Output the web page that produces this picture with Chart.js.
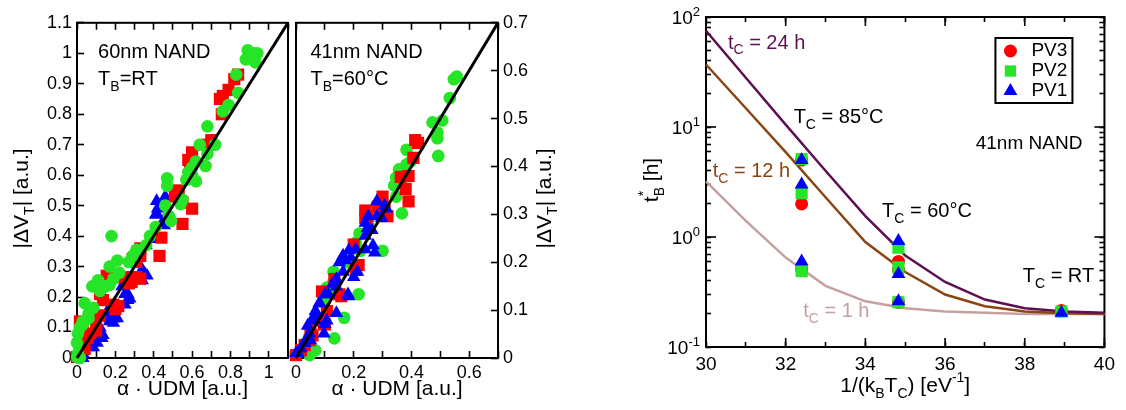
<!DOCTYPE html>
<html lang="en">
<head>
<meta charset="UTF-8">
<title>|ΔVT| vs α·UDM and t*B vs 1/(kB TC)</title>
<style>
  body { margin: 0; background: #fff; }
  #figure { position: relative; width: 1126px; height: 410px; }
  #figure canvas { position: absolute; top: 0; }
</style>
</head>
<body>
<div id="figure">
  <canvas id="nand60" width="300" height="410" style="left:0"></canvas>
  <canvas id="nand41" width="300" height="410" style="left:280px"></canvas>
  <canvas id="bake" width="506" height="410" style="left:620px"></canvas>
</div>

<script src="https://cdn.jsdelivr.net/npm/chart.js"></script>
<script>
// ---------- 60nm NAND, T_B = RT ----------
const udmTicks60 = [0, 0.1, 0.2, 0.3, 0.4, 0.5, 0.6, 0.7, 0.8, 0.9, 1, 1.1];
const udmLabels60 = ['0', '', '0.2', '', '0.4', '', '0.6', '', '0.8', '', '1', ''];
const dvtTicks60 = [0, 0.1, 0.2, 0.3, 0.4, 0.5, 0.6, 0.7, 0.8, 0.9, 1, 1.1];
const dvtLabels60 = ['0', '0.1', '0.2', '0.3', '0.4', '0.5', '0.6', '0.7', '0.8', '0.9', '1', '1.1'];
const refLine60 = [[0, 0], [1.1, 1.1]];

// green circles
const pv2Nand60 = [
  [0.89, 1.01], [0.92, 1.0], [0.94, 1.0], [0.93, 0.97], [0.88, 0.98], [0.83, 0.93],
  [0.84, 0.87], [0.79, 0.83], [0.76, 0.81], [0.68, 0.76], [0.64, 0.70], [0.72, 0.70],
  [0.68, 0.67], [0.67, 0.63], [0.62, 0.645], [0.60, 0.625], [0.58, 0.61], [0.60, 0.60],
  [0.57, 0.585], [0.62, 0.58], [0.47, 0.59], [0.47, 0.565], [0.55, 0.52], [0.54, 0.505],
  [0.46, 0.50], [0.48, 0.465], [0.49, 0.45], [0.41, 0.43], [0.38, 0.40], [0.36, 0.37],
  [0.18, 0.40], [0.31, 0.355], [0.29, 0.335], [0.27, 0.315], [0.21, 0.32], [0.22, 0.28],
  [0.19, 0.26], [0.17, 0.24], [0.08, 0.235], [0.15, 0.235], [0.12, 0.22], [0.11, 0.255],
  [0.17, 0.30], [0.04, 0.18], [0.085, 0.165], [0.06, 0.145], [0.06, 0.13], [0.03, 0.12],
  [0.03, 0.11], [0.015, 0.10], [0.005, 0.08], [0.0, 0.05], [0.005, 0.015], [0.015, 0.0],
  [0.0, 0.003]
];
// red squares
const pv3Nand60 = [
  [0.84, 0.93], [0.82, 0.915], [0.79, 0.88], [0.745, 0.85], [0.76, 0.86], [0.755, 0.80],
  [0.70, 0.715], [0.68, 0.70], [0.60, 0.675], [0.58, 0.65], [0.59, 0.62], [0.60, 0.49],
  [0.55, 0.44], [0.53, 0.55], [0.51, 0.53], [0.52, 0.545], [0.55, 0.51], [0.44, 0.395],
  [0.43, 0.335], [0.33, 0.335], [0.31, 0.315], [0.33, 0.36], [0.29, 0.325], [0.29, 0.265],
  [0.33, 0.26], [0.31, 0.265], [0.155, 0.27], [0.24, 0.265], [0.27, 0.245], [0.285, 0.25],
  [0.19, 0.175], [0.215, 0.17], [0.2, 0.16], [0.12, 0.21], [0.135, 0.19], [0.12, 0.14],
  [0.10, 0.115], [0.10, 0.09], [0.015, 0.12], [0.03, 0.11], [0.07, 0.08], [0.057, 0.065],
  [0.015, 0.048], [0.04, 0.03], [0.015, 0.025], [0.0, 0.003]
];
// blue triangles
const pv1Nand60 = [
  [0.415, 0.515], [0.43, 0.50], [0.415, 0.475], [0.46, 0.53], [0.42, 0.49], [0.41, 0.47],
  [0.45, 0.45], [0.455, 0.435], [0.36, 0.37], [0.41, 0.39], [0.34, 0.29], [0.355, 0.275],
  [0.33, 0.28], [0.365, 0.27], [0.34, 0.255], [0.235, 0.235], [0.25, 0.21], [0.265, 0.19],
  [0.265, 0.21], [0.275, 0.195], [0.25, 0.175], [0.155, 0.15], [0.19, 0.13], [0.17, 0.12],
  [0.21, 0.13], [0.19, 0.115], [0.17, 0.13], [0.12, 0.10], [0.105, 0.08], [0.085, 0.065],
  [0.135, 0.075], [0.13, 0.065], [0.105, 0.05], [0.085, 0.035], [0.06, 0.035], [0.03, 0.015],
  [0.03, 0.0], [0.025, 0.003], [0.005, 0.015]
];

// ---------- 41nm NAND, T_B = 60 °C ----------
const udmTicks41 = [0, 0.1, 0.2, 0.3, 0.4, 0.5, 0.6, 0.7];
const udmLabels41 = ['0', '', '0.2', '', '0.4', '', '0.6', ''];
const dvtTicks41 = [0, 0.1, 0.2, 0.3, 0.4, 0.5, 0.6, 0.7];
const dvtLabels41 = ['0', '0.1', '0.2', '0.3', '0.4', '0.5', '0.6', '0.7'];
const refLine41 = [[0, 0], [0.7, 0.7]];

const pv2Nand41 = [
  [0.557, 0.588], [0.547, 0.582], [0.533, 0.543], [0.473, 0.492], [0.507, 0.496],
  [0.49, 0.471], [0.49, 0.459], [0.493, 0.422], [0.383, 0.435], [0.397, 0.41],
  [0.383, 0.404], [0.357, 0.394], [0.347, 0.377], [0.357, 0.373], [0.34, 0.36],
  [0.347, 0.337], [0.367, 0.302], [0.28, 0.316], [0.297, 0.296], [0.30, 0.224],
  [0.207, 0.241], [0.223, 0.224], [0.13, 0.18], [0.13, 0.159], [0.217, 0.133],
  [0.167, 0.084], [0.133, 0.041], [0.107, 0.147], [0.113, 0.139], [0.067, 0.016],
  [0.047, 0.006], [0.25, 0.28], [0.22, 0.26], [0.18, 0.2], [0.1, 0.12], [0.03, 0.03]
];
const pv3Nand41 = [
  [0.413, 0.455], [0.423, 0.449], [0.407, 0.418], [0.363, 0.378], [0.39, 0.38],
  [0.38, 0.353], [0.39, 0.327], [0.30, 0.337], [0.283, 0.316], [0.24, 0.292],
  [0.24, 0.308], [0.29, 0.308], [0.307, 0.312], [0.247, 0.296], [0.317, 0.296],
  [0.2, 0.237], [0.217, 0.194], [0.207, 0.184], [0.133, 0.165], [0.09, 0.139],
  [0.15, 0.133], [0.157, 0.129], [0.107, 0.098], [0.073, 0.078], [0.097, 0.071],
  [0.05, 0.051], [0.047, 0.037], [0.057, 0.047], [0.03, 0.027], [0.017, 0.016],
  [0.0, 0.006], [0.1, 0.07]
];
const pv1Nand41 = [
  [0.28, 0.327], [0.307, 0.318], [0.313, 0.312], [0.25, 0.296], [0.24, 0.282],
  [0.263, 0.267], [0.267, 0.235], [0.24, 0.227], [0.207, 0.227], [0.163, 0.214],
  [0.173, 0.204], [0.213, 0.18], [0.18, 0.133], [0.183, 0.129], [0.14, 0.165],
  [0.14, 0.149], [0.113, 0.133], [0.083, 0.114], [0.067, 0.098], [0.073, 0.092],
  [0.14, 0.094], [0.1, 0.071], [0.057, 0.082], [0.04, 0.067], [0.04, 0.043],
  [0.03, 0.031], [0.017, 0.02], [0.007, 0.01], [0.28, 0.296], [0.297, 0.292],
  [0.247, 0.271], [0.24, 0.255], [0.273, 0.22], [0.183, 0.225], [0.19, 0.21],
  [0.15, 0.2], [0.163, 0.18], [0.2, 0.169], [0.127, 0.155], [0.1, 0.133],
  [0.08, 0.114], [0.107, 0.078], [0.067, 0.078], [0.097, 0.051], [0.047, 0.051],
  [0.05, 0.037], [0.0, 0.01]
];

// ---------- t*_B vs 1/(k_B T_C) ----------
const invKtTicks = [30, 31, 32, 33, 34, 35, 36, 37, 38, 39, 40];
const invKtLabels = ['30', '', '32', '', '34', '', '36', '', '38', '', '40'];
const bakeTicks = [0.1, 0.2, 0.3, 0.4, 0.5, 0.6, 0.7, 0.8, 0.9,
                   1, 2, 3, 4, 5, 6, 7, 8, 9,
                   10, 20, 30, 40, 50, 60, 70, 80, 90, 100];
const bakeLabels = ['10^{-1}', '', '', '', '', '', '', '', '',
                    '10^{0}', '', '', '', '', '', '', '', '',
                    '10^{1}', '', '', '', '', '', '', '', '', '10^{2}'];

const modelX = [30, 31, 32, 33, 34, 35, 36, 37, 38, 39, 40];
const model24h = [75, 28, 10.5, 4.0, 1.55, 0.68, 0.39, 0.27, 0.225, 0.21, 0.205];
const model12h = [37, 14.8, 5.9, 2.3, 0.9, 0.48, 0.30, 0.235, 0.21, 0.203, 0.2];
const model1h = [3.2, 1.4, 0.65, 0.36, 0.26, 0.225, 0.21, 0.205, 0.2, 0.2, 0.2];

const pv3Bake = [[32.4, 5.0], [32.4, 2.0], [32.4, 0.51], [34.83, 0.6], [34.83, 0.5], [34.83, 0.255], [38.92, 0.215]];
const pv2Bake = [[32.4, 5.1], [32.4, 2.5], [32.4, 0.49], [34.83, 0.8], [34.83, 0.53], [34.83, 0.255], [38.92, 0.21]];
const pv1Bake = [[32.4, 5.0], [32.4, 3.0], [32.4, 0.6], [34.83, 0.92], [34.83, 0.46], [34.83, 0.26], [38.92, 0.205]];

const FONT = "'Liberation Sans', Arial, Helvetica, sans-serif";
const RED = '#ff0000', GREEN = '#26e426', BLUE = '#0000ff';
const C24 = '#5e0f50', C12 = '#8b4513', C1 = '#c4a0a0';

Chart.defaults.font.family = FONT;
Chart.defaults.color = '#000';

const toXY = pts => pts.map(([x, y]) => ({ x, y }));
const fixedTicks = values => scale => { scale.ticks = values.map(v => ({ value: v })); };

// text with _{sub} and ^{sup} parts; a sub right after a sup is stacked under it
function parseRich(str) {
  const out = [];
  const re = /([_^])\{([^}]*)\}/g;
  let last = 0, m;
  while ((m = re.exec(str))) {
    if (m.index > last) out.push({ t: str.slice(last, m.index), k: '' });
    out.push({ t: m[2], k: m[1] });
    last = re.lastIndex;
  }
  if (last < str.length) out.push({ t: str.slice(last), k: '' });
  return out;
}

function drawRich(ctx, str, x, y, size, align) {
  const segs = parseRich(str);
  const small = Math.round(size * 0.68);
  const xs = [];
  let width = 0;
  segs.forEach((s, i) => {
    ctx.font = (s.k ? small : size) + 'px ' + FONT;
    const w = ctx.measureText(s.t).width;
    const sx = (s.k === '_' && i > 0 && segs[i - 1].k === '^') ? xs[i - 1] : width;
    xs.push(sx);
    width = Math.max(width, sx + w);
  });
  let x0 = x;
  if (align === 'center') x0 -= width / 2;
  else if (align === 'right') x0 -= width;
  ctx.textAlign = 'left';
  ctx.textBaseline = 'middle';
  segs.forEach((s, i) => {
    ctx.font = (s.k ? small : size) + 'px ' + FONT;
    const dy = s.k === '_' ? size * 0.38 : (s.k === '^' ? -size * 0.36 : 0);
    ctx.fillText(s.t, x0 + xs[i], y + dy);
  });
}

function drawMarker(ctx, style, r, x, y) {
  ctx.beginPath();
  if (style === 'circle') {
    ctx.arc(x, y, r, 0, Math.PI * 2);
  } else if (style === 'rect') {
    const h = r * Math.SQRT1_2;
    ctx.rect(x - h, y - h, 2 * h, 2 * h);
  } else {
    ctx.moveTo(x, y - r);
    ctx.lineTo(x + r * 0.866, y + r / 2);
    ctx.lineTo(x - r * 0.866, y + r / 2);
    ctx.closePath();
  }
  ctx.fill();
}

// longer marks on labelled ticks (log decades, even x values)
function drawMajorTicks(chart, marks) {
  const { ctx, chartArea: a, scales } = chart;
  const w = 1.6;
  ctx.save();
  ctx.fillStyle = '#000';
  marks.forEach(m => {
    const scale = scales[m.axis];
    m.values.forEach((v, i) => {
      if (!m.labels[i]) return;
      const p = scale.getPixelForValue(v);
      m.sides.forEach(side => {
        if (side === 'bottom') ctx.fillRect(p - w / 2, a.bottom - m.len, w, m.len);
        if (side === 'top') ctx.fillRect(p - w / 2, a.top, w, m.len);
        if (side === 'left') ctx.fillRect(a.left, p - w / 2, m.len, w);
        if (side === 'right') ctx.fillRect(a.right - m.len, p - w / 2, m.len, w);
      });
    });
  });
  ctx.restore();
}

// box frame, axis titles, notes and legend for one panel
function panelDeco(cfg) {
  return {
    id: 'panelDeco',
    beforeDatasetsDraw(chart) {
      const { ctx, chartArea: a } = chart;
      ctx.save();
      ctx.strokeStyle = '#000';
      ctx.lineWidth = 2;
      ctx.strokeRect(a.left, a.top, a.right - a.left, a.bottom - a.top);
      ctx.restore();
      if (cfg.marks) drawMajorTicks(chart, cfg.marks);
    },
    afterDraw(chart) {
      const { ctx, chartArea: a, scales } = chart;
      ctx.save();
      ctx.fillStyle = '#000';

      if (cfg.richY) {
        bakeTicks.forEach((v, i) => {
          if (bakeLabels[i]) drawRich(ctx, bakeLabels[i], a.left - 6, scales.y.getPixelForValue(v) + 2, cfg.richY, 'right');
        });
      }

      const T = cfg.titles;
      drawRich(ctx, T.x, (a.left + a.right) / 2, a.bottom + T.xGap, T.size, 'center');
      ctx.save();
      ctx.translate(T.ySide === 'right' ? a.right + T.yGap : a.left - T.yGap, (a.top + a.bottom) / 2 + T.yShift);
      ctx.rotate(-Math.PI / 2);
      drawRich(ctx, T.y, 0, 0, T.size, 'center');
      ctx.restore();

      (cfg.notes || []).forEach(n => {
        ctx.fillStyle = n.color || '#000';
        drawRich(ctx, n.text, scales.x.getPixelForValue(n.x), scales.y.getPixelForValue(n.y), n.size, 'left');
      });

      if (cfg.legend) {
        const L = cfg.legend;
        const bx = a.right - L.right, by = a.top + L.top;
        ctx.fillStyle = '#fff';
        ctx.fillRect(bx, by, L.width, L.height);
        ctx.strokeStyle = '#000';
        ctx.lineWidth = 2;
        ctx.strokeRect(bx, by, L.width, L.height);
        chart.data.datasets.filter(d => !d.showLine).forEach((d, i) => {
          const y = by + 13 + i * 20;
          ctx.fillStyle = d.backgroundColor;
          drawMarker(ctx, d.pointStyle, d.pointStyle === 'circle' ? 6.5 : 8, bx + 15, y);
          ctx.fillStyle = '#000';
          drawRich(ctx, d.label, bx + 36, y, L.size, 'left');
        });
      }
      ctx.restore();
    }
  };
}

function scatterSet(label, pts, color, style, radius, order) {
  return {
    label, data: toXY(pts), order, xAxisID: 'x', yAxisID: 'y',
    pointStyle: style, pointRadius: radius, pointHoverRadius: radius,
    backgroundColor: color, borderColor: color, borderWidth: 0, clip: false
  };
}
function lineSet(label, pts, color, width, order) {
  return {
    label, data: toXY(pts), order, showLine: true, xAxisID: 'x', yAxisID: 'y',
    borderColor: color, borderWidth: width, pointRadius: 0, pointHoverRadius: 0,
    backgroundColor: color, fill: false, clip: false
  };
}

const baseOptions = {
  responsive: false,
  animation: false,
  events: [],
  plugins: { legend: { display: false }, tooltip: { enabled: false } }
};

// negative tick length turns the library's tick marks inward
const inwardGrid = len => ({
  display: true, drawOnChartArea: false, drawTicks: true,
  tickLength: -len, tickWidth: 1.6, tickColor: '#000'
});

function linearAxis(min, max, ticks, labels, position, fontSize, pad, fitSize, tickLen) {
  const horizontal = position === 'bottom' || position === 'top';
  return {
    type: 'linear', position, min, max,
    grid: inwardGrid(tickLen),
    border: { display: false },
    afterBuildTicks: fixedTicks(ticks),
    afterFit: s => { if (horizontal) s.height = fitSize; else s.width = fitSize; },
    ticks: {
      display: labels !== null,
      autoSkip: false, maxRotation: 0, minRotation: 0, padding: pad + tickLen,
      font: { size: fontSize },
      callback: (v, i) => (labels ? labels[i] : '')
    }
  };
}

// left panel
new Chart(document.getElementById('nand60'), {
  type: 'scatter',
  data: {
    datasets: [
      lineSet('fit', refLine60, '#000', 3, 0),
      scatterSet('PV2', pv2Nand60, GREEN, 'circle', 6.3, 1),
      scatterSet('PV3', pv3Nand60, RED, 'rect', 8.6, 2),
      scatterSet('PV1', pv1Nand60, BLUE, 'triangle', 7.8, 3)
    ]
  },
  options: {
    ...baseOptions,
    layout: { padding: { left: 0, right: 12, top: 15, bottom: 0 } },
    scales: {
      x: linearAxis(0, 1.1, udmTicks60, udmLabels60, 'bottom', 18, 4, 52, 7),
      xTop: linearAxis(0, 1.1, udmTicks60, null, 'top', 18, 0, 0, 7),
      y: linearAxis(0, 1.1, dvtTicks60, dvtLabels60, 'left', 18, 5, 77, 7)
    }
  },
  plugins: [panelDeco({
    titles: { x: 'α · UDM [a.u.]', y: '|ΔV_{T}| [a.u.]', size: 21, xGap: 31, yGap: 55, ySide: 'left', yShift: 8 },
    notes: [
      { text: '60nm NAND', x: 0.11, y: 1.003, size: 20 },
      { text: 'T_{B}=RT', x: 0.11, y: 0.913, size: 20 }
    ]
  })]
});

// middle panel
new Chart(document.getElementById('nand41'), {
  type: 'scatter',
  data: {
    datasets: [
      lineSet('fit', refLine41, '#000', 3, 0),
      scatterSet('PV1', pv1Nand41, BLUE, 'triangle', 7.8, 1),
      scatterSet('PV3', pv3Nand41, RED, 'rect', 8.6, 2),
      scatterSet('PV2', pv2Nand41, GREEN, 'circle', 6.3, 3)
    ]
  },
  options: {
    ...baseOptions,
    layout: { padding: { left: 8, right: 0, top: 15, bottom: 0 } },
    scales: {
      x: linearAxis(0, 0.7, udmTicks41, udmLabels41, 'bottom', 18, 4, 52, 7),
      xTop: linearAxis(0, 0.7, udmTicks41, null, 'top', 18, 0, 0, 7),
      y: linearAxis(0, 0.7, dvtTicks41, dvtLabels41, 'right', 18, 5, 82, 7)
    }
  },
  plugins: [panelDeco({
    titles: { x: 'α · UDM [a.u.]', y: '|ΔV_{T}| [a.u.]', size: 21, xGap: 31, yGap: 47, ySide: 'right', yShift: 8 },
    notes: [
      { text: '41nm NAND', x: 0.05, y: 0.639, size: 20 },
      { text: 'T_{B}=60°C', x: 0.05, y: 0.582, size: 20 }
    ]
  })]
});

// right panel
const modelPts = ys => modelX.map((x, i) => [x, ys[i]]);
const logAxis = (position, width) => ({
  type: 'logarithmic', position, min: 0.1, max: 100,
  grid: inwardGrid(5),
  border: { display: false },
  afterBuildTicks: fixedTicks(bakeTicks),
  afterFit: s => { s.width = width; },
  ticks: { display: false, autoSkip: false }
});
new Chart(document.getElementById('bake'), {
  type: 'scatter',
  data: {
    datasets: [
      lineSet('t_C = 24 h', modelPts(model24h), C24, 2.5, 10),
      lineSet('t_C = 12 h', modelPts(model12h), C12, 2.5, 11),
      lineSet('t_C = 1 h', modelPts(model1h), C1, 2.5, 12),
      scatterSet('PV3', pv3Bake, RED, 'circle', 6.5, 3),
      scatterSet('PV2', pv2Bake, GREEN, 'rect', 8.6, 2),
      scatterSet('PV1', pv1Bake, BLUE, 'triangle', 8, 1)
    ]
  },
  options: {
    ...baseOptions,
    layout: { padding: { left: 0, right: 15, top: 17, bottom: 0 } },
    scales: {
      x: linearAxis(30, 40, invKtTicks, invKtLabels, 'bottom', 19, 6, 63, 5),
      xTop: linearAxis(30, 40, invKtTicks, null, 'top', 19, 0, 0, 5),
      y: logAxis('left', 86),
      yRight: logAxis('right', 0)
    }
  },
  plugins: [panelDeco({
    marks: [
      { axis: 'x', values: invKtTicks, labels: invKtLabels, sides: ['bottom', 'top'], len: 9 },
      { axis: 'y', values: bakeTicks, labels: bakeLabels, sides: ['left', 'right'], len: 10 }
    ],
    richY: 19,
    titles: { x: '1/(k_{B}T_{C}) [eV^{-1}]', y: 't^{*}_{B} [h]', size: 21, xGap: 39, yGap: 54, ySide: 'left', yShift: -2 },
    notes: [
      { text: 't_{C} = 24 h', x: 30.55, y: 58, size: 20, color: C24 },
      { text: 'T_{C} = 85°C', x: 32.2, y: 12.3, size: 20 },
      { text: '41nm NAND', x: 36.77, y: 7.0, size: 19 },
      { text: 't_{C} = 12 h', x: 30.17, y: 3.9, size: 20, color: C12 },
      { text: 'T_{C} = 60°C', x: 34.42, y: 1.72, size: 20 },
      { text: 'T_{C} = RT', x: 37.95, y: 0.44, size: 20 },
      { text: 't_{C} = 1 h', x: 32.44, y: 0.21, size: 20, color: C1 }
    ],
    legend: { right: 109, top: 21, width: 77, height: 65, size: 19 }
  })]
});
</script>
</body>
</html>
